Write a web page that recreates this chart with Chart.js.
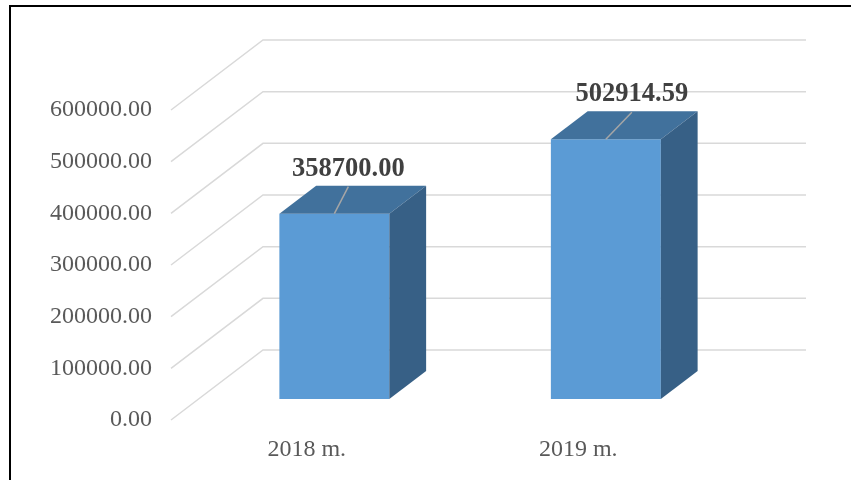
<!DOCTYPE html>
<html>
<head>
<meta charset="utf-8">
<script src="https://cdn.jsdelivr.net/npm/chart.js@4.4.1/dist/chart.umd.min.js"></script>
<style>
body { margin: 0; background: #fff; }
#marco { position: absolute; left: 9px; top: 5px; width: 900px; height: 600px; border: 2px solid #000; }
#grafico { position: absolute; left: 0; top: 0; }
</style>
</head>
<body>
<div id="marco"></div>
<canvas id="grafico" width="851" height="480"></canvas>
<script>
var anios_label = ['2018 m.', '2019 m.'];
var montos = [358700.00, 502914.59];
var y_max = 600000;
var y_paso = 100000;

// profundidad de la pared del fondo (efecto 3D)
var fondo_x = 92;
var fondo_y = 70;
var pos_barra = 0.3;
var prof_barra = 0.4;
var etiqueta_dx = [14, 26];

var ctx = document.getElementById('grafico').getContext('2d');

var caja3d = {
    id: 'caja3d',
    beforeDatasetsDraw: function (chart) {
        var c = chart.ctx;
        var area = chart.chartArea;
        var y = chart.scales.y;
        c.save();
        c.strokeStyle = '#d9d9d9';
        c.lineWidth = 1.5;
        for (var v = 0; v <= y_max; v += y_paso) {
            var py = y.getPixelForValue(v);
            c.beginPath();
            c.moveTo(area.left, py);
            c.lineTo(area.left + fondo_x, py - fondo_y);
            c.lineTo(area.right + fondo_x, py - fondo_y);
            c.stroke();
        }
        c.restore();
        c.save();
        c.translate(fondo_x * pos_barra, -fondo_y * pos_barra);
    },
    afterDatasetsDraw: function (chart) {
        var c = chart.ctx;
        var dx = fondo_x * prof_barra;
        var dy = fondo_y * prof_barra;
        chart.getDatasetMeta(0).data.forEach(function (bar, i) {
            var x1 = bar.x - bar.width / 2;
            var x2 = bar.x + bar.width / 2;
            var arriba = bar.y;
            var base = bar.base;

            c.fillStyle = '#41719c';
            c.beginPath();
            c.moveTo(x1, arriba);
            c.lineTo(x2, arriba);
            c.lineTo(x2 + dx, arriba - dy);
            c.lineTo(x1 + dx, arriba - dy);
            c.closePath();
            c.fill();

            c.fillStyle = '#376086';
            c.beginPath();
            c.moveTo(x2, arriba);
            c.lineTo(x2 + dx, arriba - dy);
            c.lineTo(x2 + dx, base - dy);
            c.lineTo(x2, base);
            c.closePath();
            c.fill();

            // linea guia y etiqueta
            var ex = bar.x + etiqueta_dx[i];
            c.strokeStyle = '#a6a6a6';
            c.lineWidth = 1.5;
            c.beginPath();
            c.moveTo(bar.x, arriba);
            c.lineTo(ex, arriba - 27);
            c.stroke();

            c.fillStyle = '#404040';
            c.font = 'bold 26.5px "Liberation Serif"';
            c.textAlign = 'center';
            c.textBaseline = 'middle';
            c.fillText(montos[i].toFixed(2), ex, arriba - 45);
        });
        c.restore();
    }
};

var chart_montos = new Chart(ctx, {
    type: 'bar',
    data: {
        labels: anios_label,
        datasets: [{
            data: montos,
            backgroundColor: '#5b9bd5',
            borderWidth: 0,
            categoryPercentage: 1,
            barPercentage: 0.405
        }]
    },
    options: {
        responsive: false,
        animation: false,
        layout: { padding: { top: 110, right: 137, left: 0, bottom: 0 } },
        plugins: {
            legend: { display: false },
            tooltip: { enabled: false }
        },
        scales: {
            x: {
                grid: { display: false, drawTicks: false },
                border: { display: false },
                ticks: {
                    color: '#595959',
                    padding: 15,
                    font: { family: 'Liberation Serif', size: 24 }
                },
                afterFit: function (scale) { scale.height = 60; }
            },
            y: {
                min: 0,
                max: y_max,
                grid: { display: false, drawTicks: false },
                border: { display: false },
                ticks: {
                    stepSize: y_paso,
                    color: '#595959',
                    padding: 19,
                    font: { family: 'Liberation Serif', size: 24 },
                    callback: function (v) { return v.toFixed(2); }
                },
                afterFit: function (scale) { scale.width = 171; }
            }
        }
    },
    plugins: [caja3d]
});
</script>
</body>
</html>
